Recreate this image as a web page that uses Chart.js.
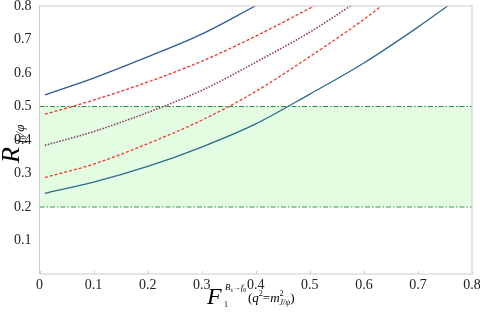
<!DOCTYPE html>
<html>
<head>
<meta charset="utf-8">
<script src="https://cdn.jsdelivr.net/npm/chart.js@4"></script>
<style>
  body { margin: 0; background: #fff; }
  #wrap { width: 480px; height: 314px; }
</style>
</head>
<body>
<div id="wrap"><canvas id="myChart" width="480" height="314"></canvas></div>
<script>
// curves (x = F1, y = R)
const blueUpperX = [0.01, 0.1, 0.2, 0.3, 0.399];
const blueUpperY = [0.535, 0.585, 0.648, 0.716, 0.8];
const redUpperX = [0.01, 0.1, 0.2, 0.3, 0.4, 0.508];
const redUpperY = [0.477, 0.519, 0.573, 0.635, 0.71, 0.8];
const purpleX = [0.01, 0.1, 0.2, 0.3, 0.4, 0.5, 0.575];
const purpleY = [0.384, 0.425, 0.482, 0.548, 0.632, 0.722, 0.8];
const redLowerX = [0.01, 0.1, 0.2, 0.3, 0.4, 0.5, 0.6, 0.632];
const redLowerY = [0.288, 0.328, 0.389, 0.459, 0.545, 0.649, 0.76, 0.8];
const blueLowerX = [0.01, 0.1, 0.2, 0.3, 0.4, 0.5, 0.6, 0.7, 0.755];
const blueLowerY = [0.241, 0.274, 0.321, 0.379, 0.448, 0.537, 0.63, 0.737, 0.8];
// allowed band
const bandX = [0, 0.8];
const bandLow = 0.2;
const bandHigh = 0.5;

function pts(xs, ys) {
  return xs.map((x, i) => ({ x: x, y: ys[i] }));
}
function flat(xs, v) {
  return xs.map(x => ({ x: x, y: v }));
}

const serif = "'Liberation Serif', 'DejaVu Serif', serif";

// draw runs of text with sizes and vertical offsets
function drawRuns(ctx, x, y, runs) {
  runs.forEach(r => {
    ctx.font = (r.italic ? "italic " : "") + r.size + "px " + serif;
    ctx.fillText(r.t, x, y + (r.dy || 0));
    x += ctx.measureText(r.t).width + (r.gap || 0);
  });
}

const titles = {
  id: "titles",
  afterDraw(chart) {
    const ctx = chart.ctx;
    const a = chart.chartArea;
    const xs = chart.scales.x;
    ctx.save();
    ctx.strokeStyle = "#cccccc";
    ctx.lineWidth = 1;
    ctx.strokeRect(a.left, a.top, a.right - a.left, a.bottom - a.top);
    // small inward tick marks on the x axis
    ctx.beginPath();
    xs.ticks.forEach(t => {
      const px = Math.round(xs.getPixelForValue(t.value)) + 0.5;
      ctx.moveTo(px, a.bottom);
      ctx.lineTo(px, a.bottom - 3);
    });
    ctx.stroke();
    ctx.fillStyle = "#000";
    ctx.textAlign = "left";
    ctx.textBaseline = "alphabetic";
    // x title
    drawRuns(ctx, 207, 304, [{ t: "F", size: 24, italic: true }]);
    drawRuns(ctx, 225, 290, [
      { t: "B", size: 9, italic: true },
      { t: "s", size: 6, italic: true, dy: 2 },
      { t: "\u2192", size: 8 },
      { t: "f", size: 9, italic: true },
      { t: "0", size: 6, dy: 2 }
    ]);
    drawRuns(ctx, 224, 307, [{ t: "1", size: 8 }]);
    drawRuns(ctx, 248, 302, [
      { t: "(", size: 13 },
      { t: "q", size: 13, italic: true },
      { t: "2", size: 8, dy: -6 },
      { t: "=", size: 13 },
      { t: "m", size: 13, italic: true },
      { t: "2", size: 8, dy: -6, gap: -4 },
      { t: "J/\u03c8", size: 8, italic: true, dy: 3 },
      { t: ")", size: 13 }
    ]);
    // y title
    ctx.translate(19, 163);
    ctx.rotate(-Math.PI / 2);
    drawRuns(ctx, 0, 0, [{ t: "R", size: 26, italic: true }]);
    drawRuns(ctx, 20, 5, [
      { t: "f", size: 13, italic: true },
      { t: "0", size: 8, dy: 2 },
      { t: "/\u03c6", size: 13, italic: true }
    ]);
    ctx.restore();
  }
};

const ctx = document.getElementById("myChart");

new Chart(ctx, {
  type: "line",
  data: {
    datasets: [
      {
        data: pts(blueUpperX, blueUpperY),
        borderColor: "#2d5c9a",
        borderWidth: 1.3,
        fill: false,
        pointRadius: 0
      },
      {
        data: pts(redUpperX, redUpperY),
        borderColor: "#f03030",
        borderWidth: 1.3,
        borderDash: [3, 2],
        fill: false,
        pointRadius: 0
      },
      {
        data: pts(purpleX, purpleY),
        borderColor: "#8a3868",
        borderWidth: 1.6,
        borderDash: [1.5, 1.5],
        fill: false,
        pointRadius: 0
      },
      {
        data: pts(redLowerX, redLowerY),
        borderColor: "#f03a30",
        borderWidth: 1.3,
        borderDash: [3, 2],
        fill: false,
        pointRadius: 0
      },
      {
        data: pts(blueLowerX, blueLowerY),
        borderColor: "#2f6a8c",
        borderWidth: 1.3,
        fill: false,
        pointRadius: 0
      },
      {
        data: flat(bandX, bandHigh),
        borderColor: "#1f8c3e",
        borderWidth: 1.2,
        borderDash: [5, 2, 1.5, 2],
        backgroundColor: "#e2fde2",
        fill: { value: bandLow },
        pointRadius: 0,
        order: 10
      },
      {
        data: flat(bandX, bandLow),
        borderColor: "#2e9c52",
        borderWidth: 1.2,
        borderDash: [5, 2, 1.5, 2],
        fill: false,
        pointRadius: 0,
        order: 10
      }
    ]
  },
  options: {
    responsive: false,
    animation: false,
    events: [],
    layout: { padding: { top: 6, right: 8, left: 0, bottom: 0 } },
    elements: { line: { cubicInterpolationMode: "monotone" } },
    plugins: {
      legend: { display: false },
      tooltip: { enabled: false },
      filler: { drawTime: "beforeDatasetsDraw" }
    },
    scales: {
      x: {
        type: "linear",
        min: 0,
        max: 0.8,
        grid: { display: false, drawTicks: false },
        border: { display: false },
        afterFit: s => { s.height = 40; s.paddingLeft = 0; s.paddingRight = 0; },
        ticks: {
          stepSize: 0.1,
          padding: 3,
          color: "#222",
          font: { family: serif, size: 14 },
          callback: v => Math.round(v * 10) / 10
        }
      },
      y: {
        min: 0,
        max: 0.8,
        grid: { display: false, drawTicks: false },
        border: { display: false },
        afterFit: s => { s.width = 39.5; s.paddingTop = 0; s.paddingBottom = 0; },
        ticks: {
          stepSize: 0.1,
          padding: 8,
          color: "#222",
          font: { family: serif, size: 14 },
          callback: v => (v === 0 ? "" : Math.round(v * 10) / 10)
        }
      }
    }
  },
  plugins: [titles]
});
</script>
</body>
</html>
